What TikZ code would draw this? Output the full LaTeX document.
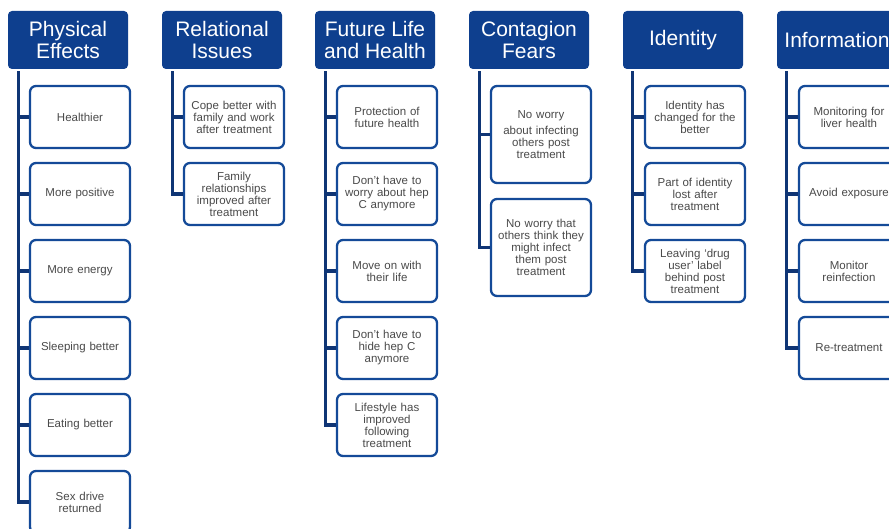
\documentclass[tikz,border=0pt]{standalone}
\usepackage{fontspec}
\setmainfont{Liberation Sans}
\definecolor{hdrblue}{HTML}{0E3F8E}
\definecolor{boxblue}{HTML}{144A98}
\definecolor{linenavy}{HTML}{0F3575}
\definecolor{txtgrey}{HTML}{4A4A4A}
\tikzset{
  hdr/.style={rectangle, rounded corners=4pt, fill=hdrblue, draw=none, minimum width=120pt, minimum height=58pt, text=white, align=center, inner sep=0pt, font=\fontsize{21}{21.5}\selectfont},
  item/.style={rectangle, rounded corners=6pt, draw=boxblue, line width=2.3pt, fill=white, minimum width=100pt, minimum height=62pt, text width=94pt, align=center, inner sep=0pt, text=txtgrey, font=\fontsize{11.5}{12}\selectfont},
  tall/.style={item, minimum height=97pt},
  trunk/.style={draw=linenavy, line width=3.2pt}
}
\begin{document}
\begin{tikzpicture}[x=1pt,y=-1pt]
\useasboundingbox (0,0) rectangle (889,529);
% headers
\node[hdr] (h1) at (68,40) {Physical\\Effects};
\node[hdr] (h2) at (222,40) {Relational\\Issues};
\node[hdr] (h3) at (375,40) {Future Life\\and Health};
\node[hdr] (h4) at (529,40) {Contagion\\Fears};
\node[hdr] (h5) at (683,40) {Identity};
\node[hdr] (h6) at (837,40) {Information};
% trunk coordinates
\coordinate (t1) at ([xshift=11pt,yshift=-2pt]h1.south west);
\coordinate (t2) at ([xshift=11pt,yshift=-2pt]h2.south west);
\coordinate (t3) at ([xshift=11pt,yshift=-2pt]h3.south west);
\coordinate (t4) at ([xshift=11pt,yshift=-2pt]h4.south west);
\coordinate (t5) at ([xshift=10pt,yshift=-2pt]h5.south west);
\coordinate (t6) at ([xshift=10pt,yshift=-2pt]h6.south west);
% Physical Effects
\node[item] (p1) at (80,117) {Healthier};
\node[item] (p2) at (80,194) {More positive};
\node[item] (p3) at (80,271) {More energy};
\node[item] (p4) at (80,348) {Sleeping better};
\node[item] (p5) at (80,425) {Eating better};
\node[item] (p6) at (80,502) {Sex drive\\returned};
% Relational Issues
\node[item] (r1) at (234,117) {Cope better with\\family and work\\after treatment};
\node[item] (r2) at (234,194) {Family\\relationships\\improved after\\treatment};
% Future Life and Health
\node[item] (f1) at (387,117) {Protection of\\future health};
\node[item] (f2) at (387,194) {Don’t have to\\worry about hep\\C anymore};
\node[item] (f3) at (387,271) {Move on with\\their life};
\node[item] (f4) at (387,348) {Don’t have to\\hide hep C\\anymore};
\node[item] (f5) at (387,425) {Lifestyle has\\improved\\following\\treatment};
% Contagion Fears
\node[tall] (c1) at (541,134.5) {No worry\\[4pt]about infecting\\others post\\treatment};
\node[tall] (c2) at (541,247.5) {No worry that\\others think they\\might infect\\them post\\treatment};
% Identity
\node[item] (i1) at (695,117) {Identity has\\changed for the\\better};
\node[item] (i2) at (695,194) {Part of identity\\lost after\\treatment};
\node[item] (i3) at (695,271) {Leaving ‘drug\\user’ label\\behind post\\treatment};
% Information
\node[item] (n1) at (849,117) {Monitoring for\\liver health};
\node[item] (n2) at (849,194) {Avoid exposure};
\node[item] (n3) at (849,271) {Monitor\\reinfection};
\node[item] (n4) at (849,348) {Re-treatment};
% connectors
\foreach \c in {p1,p2,p3,p4,p5,p6} \draw[trunk] (t1) |- (\c.west);
\foreach \c in {r1,r2} \draw[trunk] (t2) |- (\c.west);
\foreach \c in {f1,f2,f3,f4,f5} \draw[trunk] (t3) |- (\c.west);
\foreach \c in {c1,c2} \draw[trunk] (t4) |- (\c.west);
\foreach \c in {i1,i2,i3} \draw[trunk] (t5) |- (\c.west);
\foreach \c in {n1,n2,n3,n4} \draw[trunk] (t6) |- (\c.west);
\end{tikzpicture}
\end{document}
